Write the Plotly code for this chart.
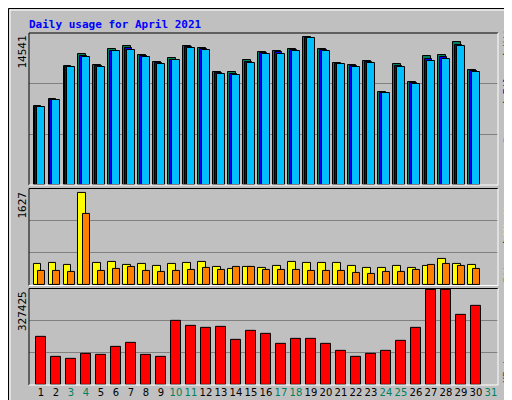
import plotly.graph_objects as go

days = list(range(1, 31))
hits = [7526, 8228, 11353, 12501, 11448, 12979, 13266, 12405, 11735, 12118, 13266, 13075, 10779, 10779, 11927,
        12724, 12788, 12979, 14127, 12979, 11640, 11448, 11831, 8865, 11544, 9822, 12310, 12405, 13681, 11002]
files = [7430, 8130, 11260, 12310, 11350, 12790, 13070, 12310, 11640, 11930, 13170, 12980, 10680, 10590, 11740,
         12630, 12690, 12880, 14030, 12880, 11540, 11350, 11740, 8770, 11350, 9720, 12020, 12210, 13390, 10900]
pages = [7430, 8130, 11250, 12210, 11250, 12790, 12880, 12210, 11540, 11930, 13070, 12880, 10590, 10490, 11640,
         12500, 12500, 12790, 14030, 12790, 11540, 11250, 11640, 8770, 11250, 9630, 11830, 12010, 13270, 10800]
visits = [362, 379, 345, 1565, 379, 395, 345, 362, 328, 362, 379, 395, 311, 277, 311,
          294, 328, 395, 379, 379, 379, 328, 294, 294, 328, 294, 328, 446, 362, 345]
sites = [243, 243, 226, 1209, 243, 277, 311, 243, 226, 243, 260, 294, 260, 311, 311,
         260, 260, 260, 243, 243, 243, 209, 192, 226, 226, 260, 345, 362, 328, 277]
kbytes = [162213, 95694, 88692, 106197, 102696, 127203, 141207, 102696, 95694, 214728, 200724, 193722, 197223,
          151710, 183219, 172716, 137706, 155211, 155211, 137706, 116700, 95694, 106197, 116700, 148209,
          193722, 319758, 319758, 235734, 267243]
tick_days = list(range(1, 32))
weekend = [3, 4, 10, 11, 17, 18, 24, 25, 31]
max_hits, max_visits, max_kb = 14541, 1627, 327425

FONT = "DejaVu Sans Mono"
fig = go.Figure()
line = dict(color="black", width=1)

def bar(y, color, offset, width, yaxis):
    fig.add_trace(go.Bar(x=days, y=y, marker=dict(color=color, line=line), offset=offset,
                         width=width, yaxis=yaxis, xaxis="x", showlegend=False, hoverinfo="skip"))

bar(hits, "#00805C", -0.5, 0.47, "y")
bar(files, "#0000FF", -0.37, 0.47, "y")
bar(pages, "#00BFFF", -0.25, 0.5, "y")
bar(visits, "#FFFF00", -0.5, 0.53, "y2")
bar(sites, "#FF8000", -0.23, 0.47, "y2")
bar(kbytes, "#FF0000", -0.35, 0.67, "y3")

ticktext = [f"<span style='color:#00805C'>{d}</span>" if d in weekend else str(d) for d in tick_days]

def yax(dom, mx):
    return dict(domain=dom, range=[0, mx], tickvals=[mx / 3, 2 * mx / 3], showticklabels=False,
                gridcolor="#808080", gridwidth=1, zeroline=False, fixedrange=True, automargin=False)

fig.update_layout(
    width=512, height=400, margin=dict(l=21, r=22, t=25, b=23, autoexpand=False),
    paper_bgcolor="#C0C0C0", plot_bgcolor="#C0C0C0", barmode="overlay", bargap=0,
    font=dict(family=FONT, size=11, color="black"),
    xaxis=dict(range=[0.2, 31.47], tickvals=tick_days, ticktext=ticktext, showgrid=False,
               zeroline=False, ticks="", tickangle=0, automargin=False,
               tickfont=dict(size=10, family="DejaVu Sans"), anchor="y3"),
    yaxis=yax([0.568, 1], max_hits),
    yaxis2=yax([0.284, 0.557], max_visits),
    yaxis3=yax([0, 0.276], max_kb),
)

def px(x):
    return (x - 21) / 469

def py(y):
    return (377 - y) / 352

shapes = []
def ln(x0, y0, x1, y1, color, w=1):
    shapes.append(dict(type="line", xref="paper", yref="paper", x0=px(x0), y0=py(y0), x1=px(x1), y1=py(y1),
                       line=dict(color=color, width=w), layer="above"))

shapes.append(dict(type="rect", xref="paper", yref="paper", x0=px(0.5), y0=py(0.5), x1=px(511.5), y1=py(399.5),
                   line=dict(color="black", width=1), layer="below"))
ln(2, 2, 506, 2, "white"); ln(2, 2, 2, 395, "white")
shapes.append(dict(type="rect", xref="paper", yref="paper", x0=px(507), y0=py(3), x1=px(511), y1=py(399),
                   fillcolor="#808080", line=dict(width=0), layer="below"))
shapes.append(dict(type="rect", xref="paper", yref="paper", x0=px(3), y0=py(395), x1=px(511), y1=py(399),
                   fillcolor="#808080", line=dict(width=0), layer="below"))
for top, bot in [(25, 177), (180.5, 277.5), (280.5, 377)]:
    ln(21, top, 490, top, "black"); ln(21, top, 21, bot, "black")
    ln(490, top, 490, bot, "white"); ln(21, bot, 490, bot, "white")
fig.update_layout(shapes=shapes)

ann = []
def a(text, x, y, yanchor, color="black", size=11):
    ann.append(dict(text=text, xref="paper", yref="paper", x=px(x), y=py(y), xanchor="center",
                    yanchor=yanchor, textangle=-90, showarrow=False,
                    font=dict(family=FONT, size=size, color=color)))

ann.append(dict(text="<b>Daily usage for April 2021</b>", xref="paper", yref="paper", x=px(19), y=py(8),
                xanchor="left", yanchor="top", showarrow=False,
                font=dict(family=FONT, size=11, color="#0000FF")))
a(str(max_hits), 14, 26, "top")
a(str(max_visits), 14, 182, "top")
a(str(max_kb), 14, 281, "top")
a("<span style='color:#00BFFF'>Pages</span> / <span style='color:#0000FF'>Files</span> / "
  "<span style='color:#00805C'>Hits</span>", 499, 137, "bottom", size=10)
a("<span style='color:#FF8000'>Sites</span> / <span style='color:#FFFF00'>Visits</span>", 499, 277,
  "bottom", size=10)
a("KBytes", 499, 377, "bottom", color="#FF0000", size=10)
fig.update_layout(annotations=ann)

fig.write_html("out.html")
